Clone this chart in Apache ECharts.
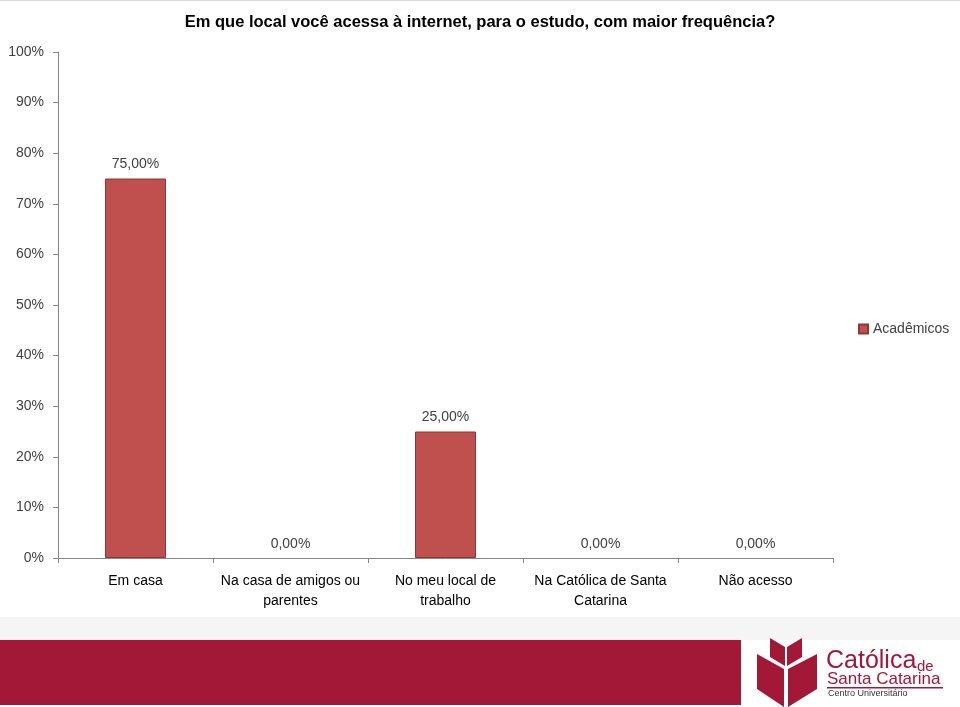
<!DOCTYPE html>
<html>
<head>
<meta charset="utf-8">
<script src="https://cdn.jsdelivr.net/npm/echarts@6/dist/echarts.min.js"></script>
<style>
html,body{margin:0;padding:0;background:#fff;}
#c{width:960px;height:707px;}
</style>
</head>
<body>
<div id="c"></div>
<script>
const titleText = 'Em que local você acessa à internet, para o estudo, com maior frequência?';
const categories = ['Em casa', 'Na casa de amigos ou\nparentes', 'No meu local de\ntrabalho', 'Na Católica de Santa\nCatarina', 'Não acesso'];
const seriesName = 'Acadêmicos';
const values = [75, 0, 25, 0, 0];
const yTicks = [0, 10, 20, 30, 40, 50, 60, 70, 80, 90, 100];

const chart = echarts.init(document.getElementById('c'), null, {renderer: 'canvas'});
const font = 'Liberation Sans, Arial, sans-serif';
const red = '#a31837';

const barData = values.map(v => v === 0 ? {value: v, itemStyle: {borderWidth: 0}} : {value: v});

const option = {
  backgroundColor: '#fff',
  animation: false,
  title: {
    text: titleText,
    left: 'center',
    top: 9,
    textStyle: {fontFamily: font, fontSize: 16.5, fontWeight: 'bold', color: '#000'}
  },
  legend: {
    data: [seriesName],
    left: 853,
    top: 317,
    itemWidth: 9,
    itemHeight: 9,
    icon: 'rect',
    textStyle: {fontFamily: font, fontSize: 14, color: '#404040'}
  },
  grid: {left: 58, right: 127, top: 52, bottom: 149, containLabel: false},
  xAxis: {
    type: 'category',
    data: categories,
    axisLine: {lineStyle: {color: '#868686'}},
    axisTick: {show: true, length: 5, alignWithLabel: false, lineStyle: {color: '#868686'}},
    axisLabel: {fontFamily: font, fontSize: 14, color: '#000', margin: 13, lineHeight: 20, interval: 0}
  },
  yAxis: {
    type: 'value',
    min: yTicks[0],
    max: yTicks[yTicks.length - 1],
    interval: 10,
    splitLine: {show: false},
    axisLine: {show: true, lineStyle: {color: '#868686'}},
    axisTick: {show: true, length: 5, lineStyle: {color: '#868686'}},
    axisLabel: {fontFamily: font, fontSize: 14, color: '#404040', margin: 14, formatter: v => v + '%'}
  },
  series: [{
    name: seriesName,
    type: 'bar',
    data: barData,
    barWidth: 61,
    itemStyle: {color: '#c0504d', borderColor: '#8c3836', borderWidth: 1},
    label: {
      show: true,
      position: 'top',
      distance: 7,
      fontFamily: font,
      fontSize: 14,
      color: '#404040',
      formatter: p => p.value.toFixed(2).replace('.', ',') + '%'
    }
  }],
  graphic: [
    {type: 'rect', shape: {x: 0, y: 0, width: 960, height: 1}, style: {fill: '#d9d9d9'}, silent: true},
    {type: 'rect', shape: {x: 0, y: 617, width: 960, height: 23}, style: {fill: '#f5f5f5'}, silent: true},
    {type: 'rect', shape: {x: 0, y: 640, width: 741, height: 65}, style: {fill: red}, silent: true},
    {type: 'polygon', shape: {points: [[757, 654], [784, 669], [784, 707], [757, 689]]}, style: {fill: red}, silent: true},
    {type: 'polygon', shape: {points: [[788, 669], [817, 654], [817, 689], [788, 707]]}, style: {fill: red}, silent: true},
    {type: 'polygon', shape: {points: [[770, 638], [785, 647], [785, 666], [770, 657]]}, style: {fill: red}, silent: true},
    {type: 'polygon', shape: {points: [[787, 647], [802, 638], [802, 657], [787, 666]]}, style: {fill: red}, silent: true},
    {type: 'text', left: 826, top: 649, style: {text: 'Católica', font: '25px Liberation Sans Narrow, Liberation Sans, Arial', fill: red}, silent: true},
    {type: 'text', left: 917, top: 659, style: {text: 'de', font: '15px Liberation Sans, Arial', fill: red}, silent: true},
    {type: 'text', left: 827, top: 671, style: {text: 'Santa Catarina', font: '17px Liberation Sans, Arial', fill: red}, silent: true},
    {type: 'rect', shape: {x: 827, y: 687, width: 116, height: 1.5}, style: {fill: red}, silent: true},
    {type: 'text', left: 828, top: 689, style: {text: 'Centro Universitário', font: '9px Liberation Sans, Arial', fill: '#333'}, silent: true}
  ]
};
chart.setOption(option);
</script>
</body>
</html>
